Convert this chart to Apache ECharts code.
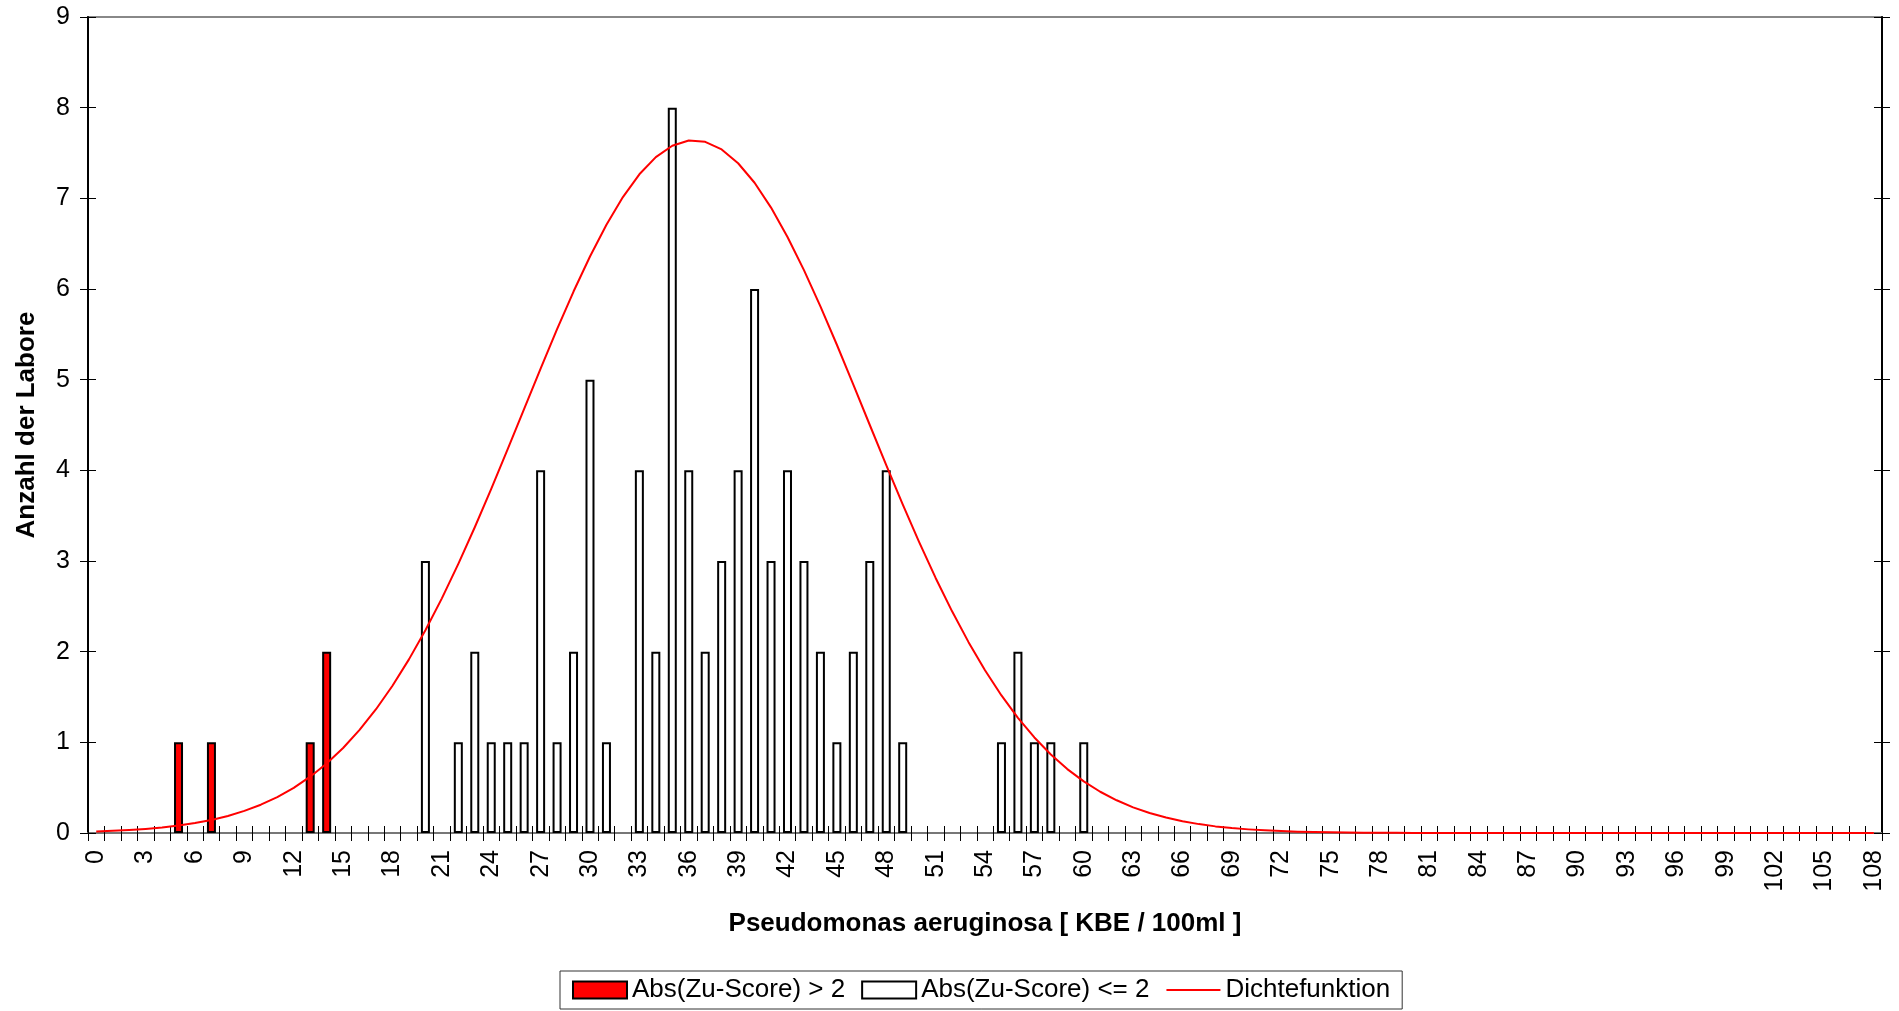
<!DOCTYPE html>
<html><head><meta charset="utf-8">
<script src="https://cdn.jsdelivr.net/npm/echarts@6/dist/echarts.min.js"></script>
<style>html,body{margin:0;padding:0;background:#fff}#c{width:1899px;height:1011px}</style>
</head><body><div id="c"></div>
<script>
// x categories 0..108
const categories = Array.from({length: 109}, (_, i) => String(i));
// bars with |Zu-Score| > 2
const redCats = [5, 7, 13, 14];
const redVals = [1, 1, 1, 2];
// bars with |Zu-Score| <= 2
const whiteCats = [20, 22, 23, 24, 25, 26, 27, 28, 29, 30, 31, 33, 34, 35, 36, 37, 38, 39, 40, 41, 42, 43, 44, 45, 46, 47, 48, 49, 55, 56, 57, 58, 60];
const whiteVals = [3, 1, 2, 1, 1, 1, 4, 1, 2, 5, 1, 4, 2, 8, 4, 2, 3, 4, 6, 3, 4, 3, 2, 1, 2, 3, 4, 1, 1, 2, 1, 1, 1];
// density curve, one value per category
const density = [
 0.017,0.024,0.033,0.045,0.061,0.082,0.110,0.144,0.188,0.244,
 0.312,0.396,0.498,0.621,0.767,0.938,1.137,1.365,1.624,1.915,
 2.237,2.588,2.969,3.372,3.796,4.234,4.678,5.121,5.557,5.972,
 6.359,6.709,7.014,7.265,7.455,7.580,7.637,7.623,7.539,7.387,
 7.172,6.898,6.574,6.208,5.809,5.385,4.945,4.500,4.058,3.624,
 3.208,2.813,2.445,2.105,1.795,1.517,1.270,1.054,0.866,0.705,
 0.569,0.455,0.361,0.283,0.220,0.170,0.129,0.098,0.073,0.054,
 0.040,0.029,0.021,0.015,0.011,0.008,0.005,0.004,0.003,0.002,
 0.001,0.001,0.001,0.001,0.001,0.001,0,0,0,0,
 0,0,0,0,0,0,0,0,0,0,
 0,0,0,0,0,0,0,0,0
];
const yMin = 0, yMax = 9, yStep = 1;

function toSeries(cats, vals) {
  const arr = categories.map(() => '-');
  cats.forEach((c, i) => { arr[c] = vals[i]; });
  return arr;
}

const FONT = "'Liberation Sans', Arial, sans-serif";
const chart = echarts.init(document.getElementById('c'), null, {renderer: 'canvas'});

const yBase = {type: 'value', min: yMin, max: yMax, interval: yStep, splitLine: {show: false}};
const xBase = {type: 'category', data: categories, boundaryGap: true};

chart.setOption({
  backgroundColor: '#fff',
  animation: false,
  textStyle: {fontFamily: FONT},
  grid: {left: 88, right: 17, top: 17, bottom: 178, show: true, borderColor: '#888', borderWidth: 2, backgroundColor: 'transparent'},
  xAxis: [
    Object.assign({}, xBase, {
      position: 'bottom',
      axisLine: {show: true, lineStyle: {color: '#777', width: 2}},
      axisTick: {show: true, interval: 0, length: 8, lineStyle: {color: '#000', width: 1}},
      axisLabel: {interval: 2, rotate: 90, fontSize: 25, color: '#000', margin: 17, fontFamily: FONT},
      name: 'Pseudomonas aeruginosa [ KBE / 100ml ]',
      nameLocation: 'middle', nameGap: 78,
      nameTextStyle: {fontSize: 26, fontWeight: 'bold', color: '#000', fontFamily: FONT}
    }),
    Object.assign({}, xBase, {
      position: 'bottom',
      axisLine: {show: false},
      axisTick: {show: true, inside: true, interval: 0, length: 7, lineStyle: {color: '#000', width: 1}},
      axisLabel: {show: false}
    })
  ],
  yAxis: [
    Object.assign({}, yBase, {
      position: 'left',
      axisLine: {show: true, lineStyle: {color: '#000', width: 2}},
      axisTick: {show: true, length: 8, lineStyle: {color: '#000', width: 1}},
      axisLabel: {fontSize: 25, color: '#000', margin: 18, fontFamily: FONT},
      name: 'Anzahl der Labore', nameLocation: 'middle', nameGap: 48,
      nameTextStyle: {fontSize: 26, fontWeight: 'bold', color: '#000', fontFamily: FONT}
    }),
    Object.assign({}, yBase, {
      position: 'left',
      axisLine: {show: false},
      axisTick: {show: true, inside: true, length: 8, lineStyle: {color: '#000', width: 1}},
      axisLabel: {show: false}
    }),
    Object.assign({}, yBase, {
      position: 'right',
      axisLine: {show: true, lineStyle: {color: '#000', width: 2}},
      axisTick: {show: true, length: 8, lineStyle: {color: '#000', width: 1}},
      axisLabel: {show: false}
    }),
    Object.assign({}, yBase, {
      position: 'right',
      axisLine: {show: false},
      axisTick: {show: true, inside: true, length: 8, lineStyle: {color: '#000', width: 1}},
      axisLabel: {show: false}
    })
  ],
  legend: {
    bottom: 2, left: 560,
    data: [
      {name: 'Abs(Zu-Score) > 2', icon: 'rect'},
      {name: 'Abs(Zu-Score) <= 2', icon: 'rect'},
      {name: 'Dichtefunktion', itemStyle: {opacity: 0}}
    ],
    itemWidth: 54, itemHeight: 17, itemGap: 16,
    borderColor: '#333', borderWidth: 1, padding: [6, 12],
    textStyle: {fontSize: 26, color: '#000', fontFamily: FONT}
  },
  series: [
    {
      name: 'Abs(Zu-Score) > 2', type: 'bar', xAxisIndex: 0, yAxisIndex: 0,
      data: toSeries(redCats, redVals), barWidth: 9, barGap: '-100%',
      itemStyle: {color: '#ff0000', borderColor: '#000', borderWidth: 2},
      z: 2
    },
    {
      name: 'Abs(Zu-Score) <= 2', type: 'bar', xAxisIndex: 0, yAxisIndex: 0,
      data: toSeries(whiteCats, whiteVals), barWidth: 9, barGap: '-100%',
      itemStyle: {color: '#ffffff', borderColor: '#000', borderWidth: 2},
      z: 2
    },
    {
      name: 'Dichtefunktion', type: 'line', xAxisIndex: 0, yAxisIndex: 0,
      data: density, smooth: false, symbol: 'none', showSymbol: false,
      lineStyle: {color: '#ff0000', width: 2, join: 'round'}, itemStyle: {color: '#ff0000'},
      z: 5
    }
  ]
});
</script></body></html>
